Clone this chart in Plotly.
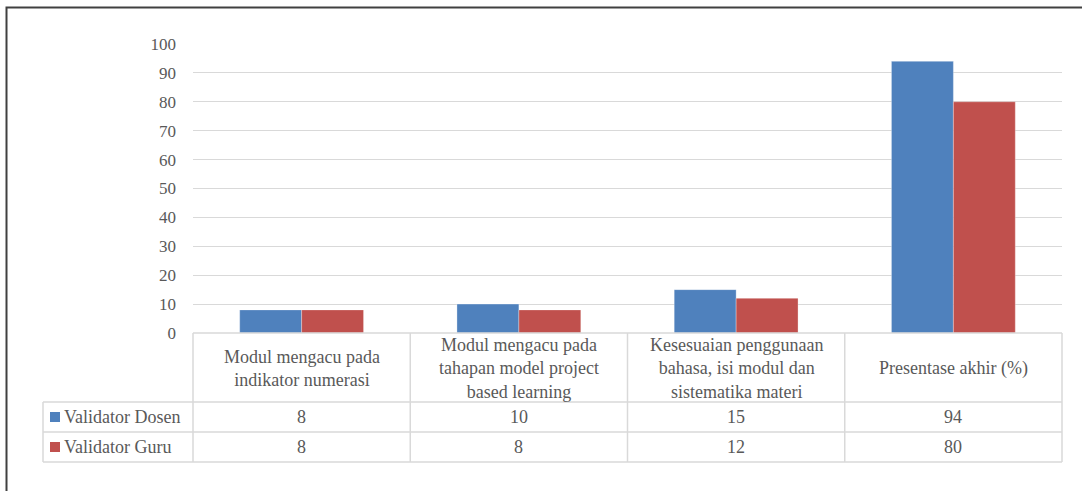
import plotly.graph_objects as go

categories = [
    "Modul mengacu pada<br>indikator numerasi",
    "Modul mengacu pada<br>tahapan model project<br>based learning",
    "Kesesuaian penggunaan<br>bahasa, isi modul dan<br>sistematika materi",
    "Presentase akhir (%)",
]
cat_ids = ["c1", "c2", "c3", "c4"]
series_names = ["Validator Dosen", "Validator Guru"]
dosen = [8, 10, 15, 94]
guru = [8, 8, 12, 80]
colors = ["#4F81BD", "#C0504D"]
y_ticks = [0, 10, 20, 30, 40, 50, 60, 70, 80, 90, 100]

W, H = 1082, 491
L, R, T, B = 193, 20, 44, 158
PW, PH = W - L - R, H - T - B


def px(x):
    return (x - L) / PW


def py(y):
    return (H - B - y) / PH


FONT = "Liberation Serif"
TXT = "#595959"
GRID = "#D9D9D9"
TS = 18

fig = go.Figure()
for name, vals, col in zip(series_names, [dosen, guru], colors):
    fig.add_trace(go.Bar(x=cat_ids, y=vals, name=name,
                         marker=dict(color=col, line=dict(width=0.6, color="rgba(255,255,255,0.5)"))))

shapes = []
# outer border
shapes.append(dict(type="rect", xref="paper", yref="paper", x0=px(6.5), x1=px(1100), y0=py(7.5), y1=py(520),
                   line=dict(color="#404040", width=2), layer="above"))
# table lines
tl = dict(color=GRID, width=1.5)
col_edges = [193 + i * PW / 4 for i in range(5)]
for y in [333, 402, 432, 462]:
    x0 = 193 if y == 333 else 43
    shapes.append(dict(type="line", xref="paper", yref="paper", x0=px(x0), x1=px(1062), y0=py(y), y1=py(y), line=tl))
for x in col_edges:
    shapes.append(dict(type="line", xref="paper", yref="paper", x0=px(x), x1=px(x), y0=py(333), y1=py(462), line=tl))
shapes.append(dict(type="line", xref="paper", yref="paper", x0=px(43), x1=px(43), y0=py(402), y1=py(462), line=tl))

annotations = []
for cid, lab in zip(cat_ids, categories):
    annotations.append(dict(x=cid, xref="x", y=py(368), yref="paper", text=lab, showarrow=False,
                            font=dict(family=FONT, size=TS, color=TXT), align="center", yanchor="middle"))
for row_y, vals in zip([417, 447], [dosen, guru]):
    for cid, v in zip(cat_ids, vals):
        annotations.append(dict(x=cid, xref="x", y=py(row_y), yref="paper", text=str(v), showarrow=False,
                                font=dict(family=FONT, size=TS, color=TXT), yanchor="middle"))
for row_y, name, col in zip([417, 447], series_names, colors):
    shapes.append(dict(type="rect", xref="paper", yref="paper", x0=px(50), x1=px(60), y0=py(row_y - 5),
                       y1=py(row_y + 5), fillcolor=col, line=dict(width=0)))
    annotations.append(dict(x=px(62), xref="paper", y=py(row_y), yref="paper", xanchor="left", yanchor="middle",
                            text=name, showarrow=False,
                            font=dict(family=FONT, size=TS, color=TXT)))

fig.update_layout(
    width=W, height=H,
    margin=dict(l=L, r=R, t=T, b=B, pad=0),
    plot_bgcolor="white", paper_bgcolor="white",
    barmode="group", bargap=0.43, bargroupgap=0,
    showlegend=False,
    shapes=shapes, annotations=annotations,
    font=dict(family=FONT, size=17, color=TXT),
    xaxis=dict(showticklabels=False, showgrid=False, zeroline=False, showline=False, ticks=""),
    yaxis=dict(range=[0, 100], tickvals=y_ticks, showgrid=True, gridcolor=GRID, gridwidth=1,
               zeroline=False, showline=False, ticks="", ticklabelstandoff=16,
               tickfont=dict(family=FONT, size=17, color=TXT)),
)
fig.write_html("out.html")
